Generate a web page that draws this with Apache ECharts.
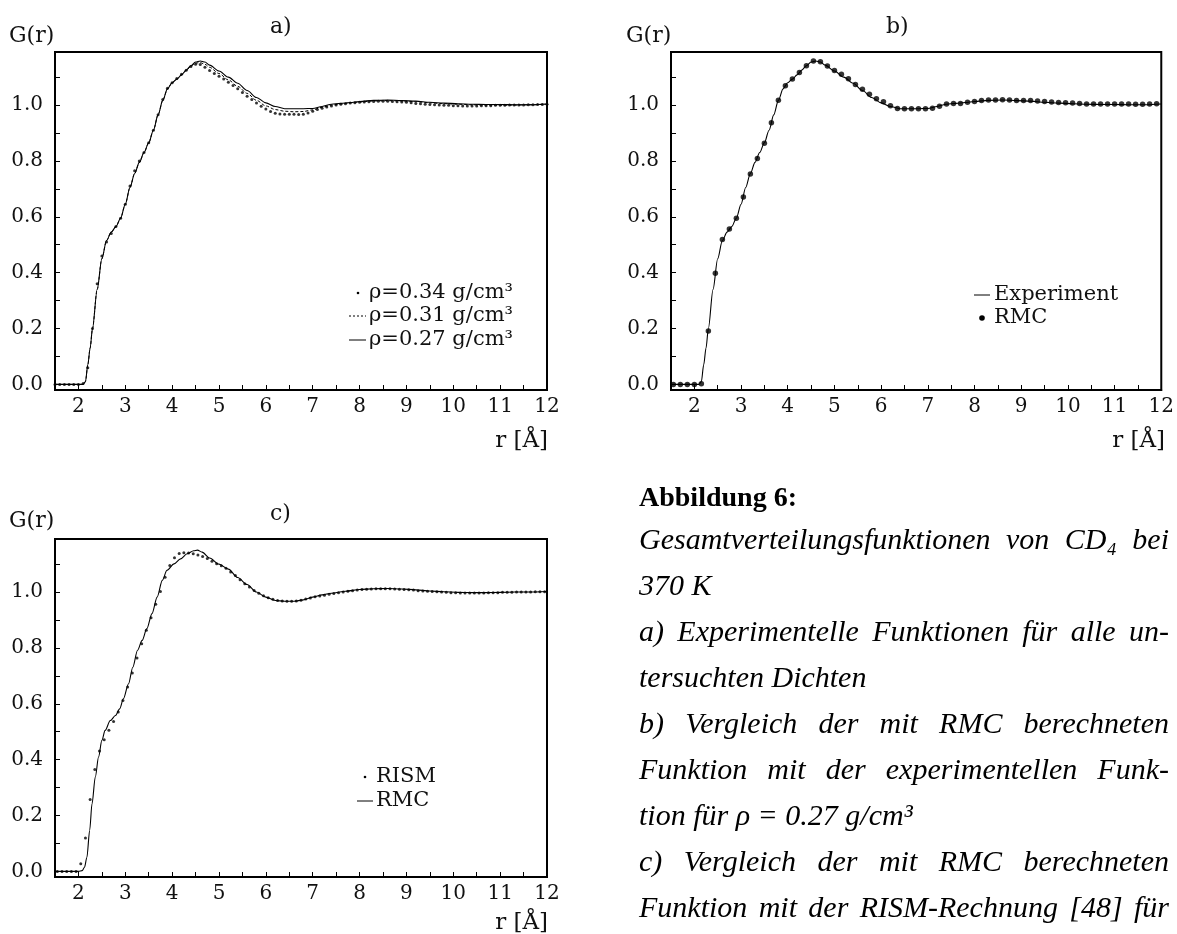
<!DOCTYPE html>
<html>
<head>
<meta charset="utf-8">
<script src="https://cdn.jsdelivr.net/npm/echarts@6/dist/echarts.min.js"></script>
<style>
html,body{margin:0;padding:0;background:#fff;}
#chart{width:1177px;height:934px;}
</style>
</head>
<body>
<div id="chart"></div>
<script>
// ---------- DATA ----------
// Panel a: rho = 0.34 g/cm3 (dots)
const rA034 = [1.5,1.6,1.7,1.8,1.9,2.0,2.1,2.2,2.3,2.4,2.5,2.6,2.7,2.8,2.9,3.0,3.1,3.2,3.3,3.4,3.5,3.6,3.7,3.8,3.9,4.0,4.1,4.2,4.3,4.4,4.5,4.6,4.7,4.8,4.9,5.0,5.1,5.2,5.3,5.4,5.5,5.6,5.7,5.8,5.9,6.0,6.1,6.2,6.3,6.4,6.5,6.6,6.7,6.8,6.9,7.0,7.1,7.2,7.3,7.4,7.5,7.6,7.7,7.8,7.9,8.0,8.1,8.2,8.3,8.4,8.5,8.6,8.7,8.8,8.9,9.0,9.1,9.2,9.3,9.4,9.5,9.6,9.7,9.8,9.9,10.0,10.1,10.2,10.3,10.4,10.5,10.6,10.7,10.8,10.9,11.0,11.1,11.2,11.3,11.4,11.5,11.6,11.7,11.8,11.9,12.0];
const gA034 = [0,0,0,0,0,0,0.003,0.06,0.2,0.36,0.46,0.51,0.54,0.565,0.595,0.645,0.71,0.765,0.8,0.83,0.865,0.91,0.965,1.02,1.06,1.08,1.095,1.11,1.125,1.138,1.146,1.145,1.135,1.124,1.113,1.103,1.093,1.082,1.07,1.058,1.045,1.032,1.02,1.007,0.996,0.986,0.977,0.971,0.968,0.967,0.967,0.967,0.966,0.967,0.972,0.978,0.984,0.989,0.993,0.997,1.0,1.003,1.005,1.007,1.008,1.01,1.011,1.012,1.013,1.014,1.014,1.014,1.013,1.012,1.011,1.01,1.008,1.006,1.005,1.003,1.002,1.001,1.0,0.999,0.999,0.998,0.998,0.997,0.997,0.997,0.997,0.998,0.998,0.998,0.999,0.999,0.999,1.0,1.0,1.0,1.0,1.001,1.001,1.002,1.002,1.003];

// Panel a: rho = 0.31 g/cm3 (dashed line)
const rA031 = [1.5,2.0,2.1,2.15,2.2,2.25,2.3,2.4,2.5,2.6,2.7,2.8,2.9,3.0,3.1,3.2,3.3,3.4,3.5,3.6,3.7,3.8,3.9,4.0,4.1,4.2,4.3,4.4,4.5,4.6,4.7,4.8,5.0,5.2,5.4,5.6,5.8,6.0,6.2,6.4,6.6,6.8,7.0,7.2,7.4,7.6,7.8,8.0,8.3,8.6,8.9,9.2,9.5,9.8,10.1,10.4,10.7,11.0,11.3,11.6,12.0];
const gA031 = [0,0,0,0.01,0.07,0.13,0.2,0.34,0.45,0.515,0.545,0.565,0.595,0.645,0.705,0.755,0.795,0.83,0.865,0.91,0.965,1.017,1.058,1.08,1.093,1.108,1.124,1.139,1.15,1.152,1.146,1.135,1.113,1.09,1.067,1.042,1.017,0.997,0.984,0.978,0.976,0.977,0.983,0.992,1.0,1.004,1.008,1.011,1.015,1.016,1.015,1.012,1.008,1.005,1.003,1.001,1.0,1.0,1.0,1.001,1.003];

// Panel a/b: rho = 0.27 g/cm3 (solid line, experiment)
const rA027 = [1.5,2.0,2.1,2.15,2.2,2.25,2.3,2.4,2.5,2.6,2.7,2.8,2.9,3.0,3.1,3.2,3.3,3.4,3.5,3.6,3.7,3.8,3.9,4.0,4.1,4.2,4.3,4.4,4.5,4.6,4.7,4.8,5.0,5.2,5.4,5.6,5.8,6.0,6.2,6.4,6.6,6.8,7.0,7.2,7.4,7.6,7.8,8.0,8.3,8.6,8.9,9.2,9.5,9.8,10.1,10.4,10.7,11.0,11.3,11.6,12.0];
const gA027 = [0,0,0,0.01,0.07,0.13,0.2,0.34,0.45,0.515,0.545,0.565,0.595,0.645,0.705,0.755,0.795,0.83,0.865,0.91,0.965,1.017,1.058,1.08,1.093,1.108,1.125,1.141,1.154,1.158,1.154,1.143,1.122,1.1,1.078,1.052,1.027,1.008,0.995,0.987,0.987,0.987,0.988,0.995,1.003,1.006,1.009,1.013,1.017,1.018,1.016,1.014,1.01,1.007,1.005,1.003,1.002,1.002,1.001,1.001,1.004];

// Panel b: RMC (dots)
const rB = [1.55,1.7,1.85,2.0,2.15,2.3,2.45,2.6,2.75,2.9,3.05,3.2,3.35,3.5,3.65,3.8,3.95,4.1,4.25,4.4,4.55,4.7,4.85,5.0,5.15,5.3,5.45,5.6,5.75,5.9,6.05,6.2,6.35,6.5,6.65,6.8,6.95,7.1,7.25,7.4,7.55,7.7,7.85,8.0,8.15,8.3,8.45,8.6,8.75,8.9,9.05,9.2,9.35,9.5,9.65,9.8,9.95,10.1,10.25,10.4,10.55,10.7,10.85,11.0,11.15,11.3,11.45,11.6,11.75,11.9];
const gB = [0,0,0,0,0.002,0.191,0.398,0.519,0.556,0.595,0.671,0.753,0.809,0.863,0.937,1.017,1.069,1.093,1.117,1.141,1.158,1.155,1.14,1.124,1.11,1.094,1.074,1.057,1.039,1.023,1.012,0.998,0.988,0.987,0.987,0.987,0.987,0.989,0.996,1.004,1.006,1.006,1.01,1.013,1.016,1.018,1.018,1.019,1.018,1.016,1.016,1.016,1.015,1.013,1.011,1.009,1.008,1.007,1.006,1.004,1.004,1.004,1.004,1.004,1.004,1.004,1.003,1.003,1.004,1.005];

// Panel c: RISM (dots)
const rC = [1.55,1.65,1.75,1.85,1.95,2.05,2.15,2.25,2.35,2.45,2.55,2.65,2.75,2.85,2.95,3.05,3.15,3.25,3.35,3.45,3.55,3.65,3.75,3.85,3.95,4.05,4.15,4.25,4.35,4.45,4.55,4.65,4.75,4.85,4.95,5.05,5.15,5.25,5.35,5.45,5.55,5.65,5.75,5.85,5.95,6.05,6.15,6.25,6.35,6.45,6.55,6.65,6.75,6.85,6.95,7.05,7.15,7.25,7.35,7.45,7.55,7.65,7.75,7.85,7.95,8.05,8.15,8.25,8.35,8.45,8.55,8.65,8.75,8.85,8.95,9.05,9.15,9.25,9.35,9.45,9.55,9.65,9.75,9.85,9.95,10.05,10.15,10.25,10.35,10.45,10.55,10.65,10.75,10.85,10.95,11.05,11.15,11.25,11.35,11.45,11.55,11.65,11.75,11.85,11.95];
const gCrism = [0,0,0,0,0,0.027,0.12,0.257,0.365,0.431,0.471,0.505,0.537,0.571,0.612,0.66,0.71,0.764,0.815,0.863,0.908,0.956,1.002,1.053,1.095,1.123,1.138,1.141,1.14,1.137,1.133,1.127,1.12,1.11,1.101,1.094,1.085,1.072,1.059,1.044,1.03,1.018,1.006,0.996,0.987,0.98,0.974,0.97,0.968,0.967,0.967,0.968,0.971,0.975,0.979,0.983,0.986,0.989,0.992,0.995,0.998,1.0,1.003,1.005,1.007,1.009,1.01,1.011,1.012,1.012,1.012,1.012,1.011,1.01,1.009,1.008,1.007,1.005,1.004,1.003,1.002,1.001,1.0,0.999,0.998,0.998,0.997,0.997,0.997,0.997,0.997,0.997,0.998,0.998,0.998,0.999,0.999,0.999,1.0,1.0,1.0,1.0,1.001,1.001,1.001];

// Panel c: RMC (solid line)
const rCrmc = [1.5,2.0,2.08,2.13,2.18,2.24,2.29,2.36,2.43,2.5,2.57,2.68,2.79,2.88,2.96,3.07,3.16,3.26,3.36,3.46,3.57,3.68,3.79,3.89,4.04,4.18,4.32,4.46,4.54,4.64,4.8,5.0,5.2,5.4,5.6,5.8,6.0,6.2,6.4,6.6,6.8,7.0,7.2,7.4,7.7,8.0,8.3,8.6,8.9,9.2,9.5,9.8,10.1,10.4,10.7,11.0,11.3,11.6,12.0];
const gCrmc = [0,0,0.003,0.015,0.05,0.147,0.242,0.338,0.41,0.469,0.505,0.54,0.558,0.582,0.618,0.672,0.731,0.791,0.827,0.869,0.923,0.982,1.042,1.078,1.101,1.119,1.137,1.148,1.15,1.143,1.122,1.1,1.082,1.052,1.027,1.0,0.982,0.97,0.967,0.967,0.972,0.982,0.99,0.996,1.003,1.009,1.012,1.013,1.011,1.008,1.004,1.001,0.999,0.998,0.998,0.999,1.0,1.0,1.002];

// Tick values and labels
const xLabelVals = [2,3,4,5,6,7,8,9,10,11,12];
const xTickVals = [2,2.5,3,3.5,4,4.5,5,5.5,6,6.5,7,7.5,8,8.5,9,9.5,10,10.5,11,11.5];
const yLabelVals = [0,0.2,0.4,0.6,0.8,1.0];
const yTickVals = [0,0.1,0.2,0.3,0.4,0.5,0.6,0.7,0.8,0.9,1.0,1.1];

const panelTitles = ['a)','b)','c)'];
const yName = 'G(r)';
const xName = 'r [Å]';
const legendA = ['ρ=0.34 g/cm³','ρ=0.31 g/cm³','ρ=0.27 g/cm³'];
const legendB = ['Experiment','RMC'];
const legendC = ['RISM','RMC'];
const captionLines = [
  {t:'Abbildung 6:', bold:true, j:false},
  {t:'Gesamtverteilungsfunktionen von CD₄ bei', j:true},
  {t:'370 K', j:false},
  {t:'a) Experimentelle Funktionen für alle un-', j:true},
  {t:'tersuchten Dichten', j:false},
  {t:'b) Vergleich der mit RMC berechneten', j:true},
  {t:'Funktion mit der experimentellen Funk-', j:true},
  {t:'tion für ρ = 0.27 g/cm³', j:false},
  {t:'c) Vergleich der mit RMC berechneten', j:true},
  {t:'Funktion mit der RISM-Rechnung [48] für', j:true}
];

// ---------- CHART ----------
const zip = (xs, ys) => xs.map((x, i) => [x, ys[i]]);
const SERIF = '"DejaVu Serif", "Liberation Serif", serif';
const grids = [
  {left:55, top:52, width:492, height:338},
  {left:671, top:52, width:493, height:338},
  {left:55, top:539, width:492, height:338}
];

function xAxisDef(i){
  return {
    type:'value', gridIndex:i, min:1.5, max:12,
    axisLine:{show:true, onZero:false, lineStyle:{color:'#000', width:2}},
    axisTick:{show:true, inside:true, length:5, customValues:xTickVals, lineStyle:{color:'#000', width:1}},
    axisLabel:{show:true, customValues:xLabelVals, margin:7, color:'#111', fontFamily:SERIF, fontSize:20, formatter:v=>String(Math.round(v))},
    splitLine:{show:false}
  };
}
function yAxisDef(i){
  return {
    type:'value', gridIndex:i, min:-0.02, max:1.19,
    axisLine:{show:true, onZero:false, lineStyle:{color:'#000', width:2}},
    axisTick:{show:true, inside:true, length:5, customValues:yTickVals, lineStyle:{color:'#000', width:1}},
    axisLabel:{show:true, customValues:yLabelVals, margin:12, color:'#111', fontFamily:SERIF, fontSize:20, formatter:v=>v.toFixed(1)},
    splitLine:{show:false}
  };
}

const graphics = [];
function txt(x, y, s, opts){
  opts = opts || {};
  graphics.push({
    type:'text', silent:true,
    style:{
      text:s, x:x, y:y,
      font: opts.font || ('21px ' + SERIF),
      fill: opts.fill || '#111',
      textAlign: opts.align || 'left',
      textVerticalAlign:'middle', verticalAlign:'middle'
    }
  });
}
function seg(x1, y, x2, dash){
  graphics.push({type:'line', silent:true, shape:{x1:x1,y1:y,x2:x2,y2:y},
    style:{stroke:'#000', lineWidth:1, lineDash: dash || null}});
}
function dot(x, y, r){
  graphics.push({type:'circle', silent:true, shape:{cx:x, cy:y, r:r}, style:{fill:'#000'}});
}

// Panel labels
const lblFont = '22px ' + SERIF;
txt(9, 36, yName, {font:lblFont}); txt(626, 36, yName, {font:lblFont}); txt(9, 521, yName, {font:lblFont});
txt(270, 27, panelTitles[0], {font:lblFont}); txt(886, 27, panelTitles[1], {font:lblFont}); txt(270, 514, panelTitles[2], {font:lblFont});
txt(548, 441, xName, {align:'right', font:'23px ' + SERIF}); txt(1165, 441, xName, {align:'right', font:'23px ' + SERIF}); txt(548, 923, xName, {align:'right', font:'23px ' + SERIF});

// Legends
dot(358, 293, 1.3); txt(369, 293, legendA[0]);
seg(349, 316, 366, [2,2]); txt(369, 316, legendA[1]);
seg(349, 340, 366); txt(369, 340, legendA[2]);
seg(974, 295, 990); txt(994, 295, legendB[0]);
dot(982, 318, 2.8); txt(994, 318, legendB[1]);
dot(365, 777, 1.3); txt(376, 777, legendC[0]);
seg(357, 801, 373); txt(376, 801, legendC[1]);

// Caption with justification
const capLeft = 639, capRight = 1169;
const capY = [499, 541, 587, 633, 679, 725, 771, 817, 863, 909];
const ctx = document.createElement('canvas').getContext('2d');
const fontIt = 'italic 30px "Liberation Serif", "DejaVu Serif", serif';
const fontBold = 'bold 28px "Liberation Serif", "DejaVu Serif", serif';
captionLines.forEach((ln, i) => {
  const y = capY[i];
  const font = ln.bold ? fontBold : fontIt;
  if (!ln.j) { txt(capLeft, y, ln.t, {font, fill:'#000'}); return; }
  ctx.font = font;
  const words = ln.t.split(' ');
  const widths = words.map(w => ctx.measureText(w).width);
  const total = widths.reduce((a,b)=>a+b, 0);
  const gap = (capRight - capLeft - total) / (words.length - 1);
  let x = capLeft;
  words.forEach((w, k) => { txt(x, y, w, {font, fill:'#000'}); x += widths[k] + gap; });
});

const option = {
  animation:false,
  backgroundColor:'#fff',
  grid: grids.map(g => Object.assign({show:true, borderColor:'#000', borderWidth:2, backgroundColor:'transparent', containLabel:false}, g)),
  xAxis:[xAxisDef(0), xAxisDef(1), xAxisDef(2)],
  yAxis:[yAxisDef(0), yAxisDef(1), yAxisDef(2)],
  series:[
    {name:legendA[0], type:'scatter', xAxisIndex:0, yAxisIndex:0, data:zip(rA034, gA034), symbol:'circle', symbolSize:3, itemStyle:{color:'#000'}},
    {name:legendA[1], type:'line', xAxisIndex:0, yAxisIndex:0, data:zip(rA031, gA031), smooth:0.3, smoothMonotone:'x', showSymbol:false, lineStyle:{color:'#000', width:1, type:[3,2]}},
    {name:legendA[2], type:'line', xAxisIndex:0, yAxisIndex:0, data:zip(rA027, gA027), smooth:0.3, smoothMonotone:'x', showSymbol:false, lineStyle:{color:'#000', width:1.1}},
    {name:legendB[0], type:'line', xAxisIndex:1, yAxisIndex:1, data:zip(rA027, gA027), smooth:0.3, smoothMonotone:'x', showSymbol:false, lineStyle:{color:'#000', width:1.1}},
    {name:legendB[1], type:'scatter', xAxisIndex:1, yAxisIndex:1, data:zip(rB, gB), symbol:'circle', symbolSize:5.5, itemStyle:{color:'#000'}},
    {name:legendC[0], type:'scatter', xAxisIndex:2, yAxisIndex:2, data:zip(rC, gCrism), symbol:'circle', symbolSize:3, itemStyle:{color:'#000'}},
    {name:legendC[1], type:'line', xAxisIndex:2, yAxisIndex:2, data:zip(rCrmc, gCrmc), smooth:0.3, smoothMonotone:'x', showSymbol:false, lineStyle:{color:'#000', width:1.1}}
  ],
  graphic: graphics
};

const chart = echarts.init(document.getElementById('chart'), null, {renderer:'canvas'});
chart.setOption(option);
</script>
</body>
</html>
